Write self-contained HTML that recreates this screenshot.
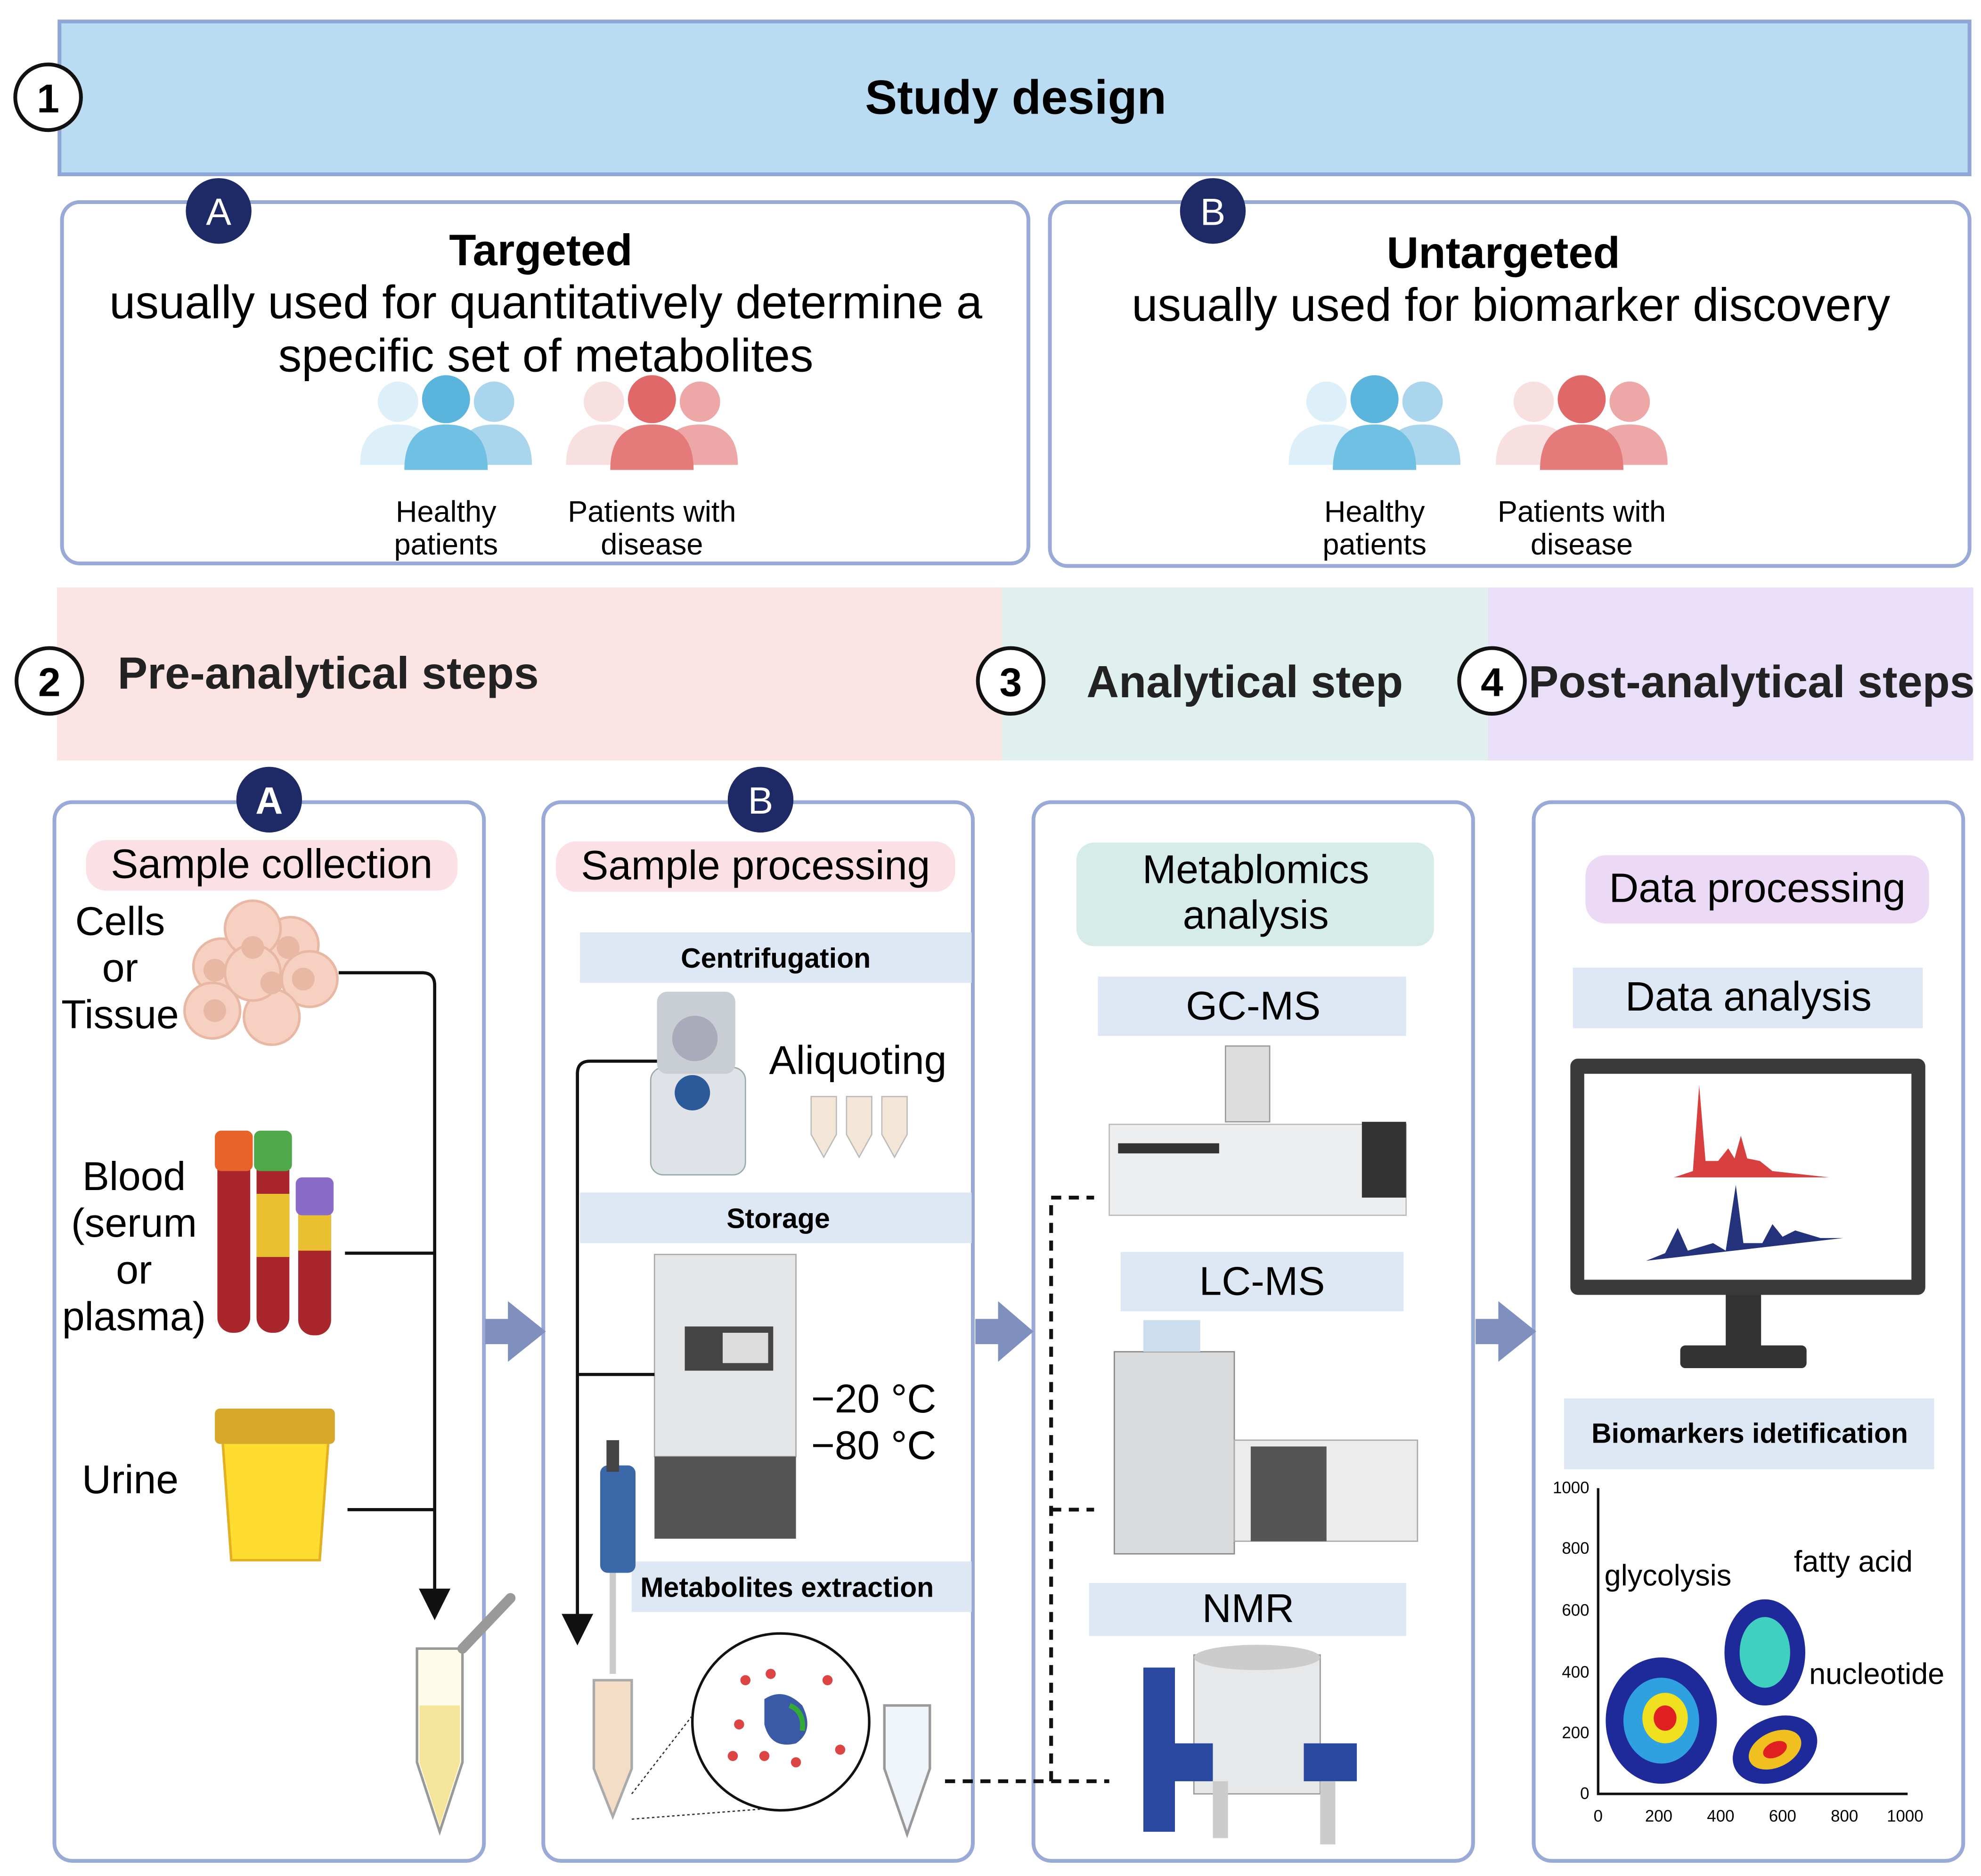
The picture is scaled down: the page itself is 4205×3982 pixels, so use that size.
<!DOCTYPE html>
<html><head><meta charset="utf-8"><style>
html,body{margin:0;padding:0;background:#fff}
svg{display:block}
text{font-family:"Liberation Sans",sans-serif}
</style></head><body>
<svg width="4205" height="3982" viewBox="0 0 1568 1485" xmlns="http://www.w3.org/2000/svg">
<defs>
<g id="people">
 <circle cx="-38" cy="-22" r="16" fill="#ddeff8"/><path d="M-68 28 q0-32 30-32 q30 0 30 32z" fill="#ddeff8"/>
 <circle cx="38" cy="-22" r="16" fill="#a9d6ec"/><path d="M8 28 q0-32 30-32 q30 0 30 32z" fill="#a9d6ec"/>
 <circle cx="0" cy="-24" r="19" fill="#5ab4dc"/><path d="M-33 32 q0-36 33-36 q33 0 33 36z" fill="#6fc0e2"/>
</g>
<g id="peopleR">
 <circle cx="-38" cy="-22" r="16" fill="#f8e0e0"/><path d="M-68 28 q0-32 30-32 q30 0 30 32z" fill="#f8e0e0"/>
 <circle cx="38" cy="-22" r="16" fill="#eda7a7"/><path d="M8 28 q0-32 30-32 q30 0 30 32z" fill="#eda7a7"/>
 <circle cx="0" cy="-24" r="19" fill="#e06868"/><path d="M-33 32 q0-36 33-36 q33 0 33 36z" fill="#e47a7a"/>
</g>
<marker id="ah" markerWidth="10" markerHeight="10" refX="5" refY="5" orient="auto"><path d="M0 0 L10 5 L0 10z" fill="#111"/></marker>
</defs>

<rect x="47" y="17" width="1512" height="121" fill="#b9dcf2" stroke="#8fa6d6" stroke-width="3"/>
<circle cx="38" cy="77" r="26" fill="#fff" stroke="#111" stroke-width="3"/>
<text x="38" y="89" font-size="32" font-weight="bold" text-anchor="middle">1</text>
<text x="804" y="90" font-size="38" font-weight="bold" text-anchor="middle">Study design</text>

<rect x="49" y="160" width="765" height="286" rx="14" fill="#fff" stroke="#9aaad6" stroke-width="3"/>
<circle cx="173" cy="167" r="26" fill="#1e2a66"/>
<text x="173" y="178" font-size="30" fill="#fff" text-anchor="middle">A</text>
<text x="428" y="210" font-size="35" font-weight="bold" text-anchor="middle">Targeted</text>
<text x="432" y="252" font-size="37" text-anchor="middle">usually used for quantitatively determine a</text>
<text x="432" y="294" font-size="37" text-anchor="middle">specific set of metabolites</text>
<use href="#people" x="353" y="340"/><use href="#peopleR" x="516" y="340"/>
<g font-size="23.5" text-anchor="middle"><text x="353" y="413">Healthy</text><text x="353" y="439">patients</text>
<text x="516" y="413">Patients with</text><text x="516" y="439">disease</text></g>

<rect x="831" y="160" width="728" height="288" rx="14" fill="#fff" stroke="#9aaad6" stroke-width="3"/>
<circle cx="960" cy="167" r="26" fill="#1e2a66"/>
<text x="960" y="178" font-size="30" fill="#fff" text-anchor="middle">B</text>
<text x="1190" y="212" font-size="35" font-weight="bold" text-anchor="middle">Untargeted</text>
<text x="1196" y="254" font-size="37" text-anchor="middle">usually used for biomarker discovery</text>
<use href="#people" x="1088" y="340"/><use href="#peopleR" x="1252" y="340"/>
<g font-size="23.5" text-anchor="middle"><text x="1088" y="413">Healthy</text><text x="1088" y="439">patients</text>
<text x="1252" y="413">Patients with</text><text x="1252" y="439">disease</text></g>

<rect x="45" y="465" width="748" height="137" fill="#fce4e4"/>
<rect x="793" y="465" width="385" height="137" fill="#e0f0ee"/>
<rect x="1178" y="465" width="384" height="137" fill="#eadff8"/>
<g stroke="#111" stroke-width="3" fill="#fff"><circle cx="39" cy="539" r="26"/><circle cx="800" cy="539" r="26"/><circle cx="1181" cy="539" r="26"/></g>
<g font-size="32" font-weight="bold" text-anchor="middle"><text x="39" y="551">2</text><text x="800" y="551">3</text><text x="1181" y="551">4</text></g>
<g font-size="35.5" font-weight="bold" fill="#222"><text x="93" y="545">Pre-analytical steps</text><text x="860" y="552">Analytical step</text><text x="1210" y="552">Post-analytical steps</text></g>

<g fill="#fff" stroke="#9aaad6" stroke-width="3">
<rect x="43" y="635" width="340" height="838" rx="14"/><rect x="430" y="635" width="340" height="838" rx="14"/>
<rect x="818" y="635" width="348" height="838" rx="14"/><rect x="1214" y="635" width="340" height="838" rx="14"/></g>
<g fill="#7f90bf"><path d="M384 1044h18v-14l30 24-30 24v-14h-18z"/><path d="M772 1044h18v-14l28 24-28 24v-14h-18z"/><path d="M1168 1044h18v-14l30 24-30 24v-14h-18z"/></g>

<!-- panel 1 -->
<circle cx="213" cy="633" r="26" fill="#1e2a66"/><text x="213" y="644" font-size="30" fill="#fff" text-anchor="middle" font-weight="bold">A</text>
<rect x="68" y="665" width="294" height="40" rx="16" fill="#fbe0e6"/>
<text x="215" y="695" font-size="32.5" text-anchor="middle">Sample collection</text>
<g font-size="32" text-anchor="middle"><text x="95" y="740">Cells</text><text x="95" y="777">or</text><text x="95" y="814">Tissue</text>
<text x="106" y="942">Blood</text><text x="106" y="979">(serum</text><text x="106" y="1016">or</text><text x="106" y="1053">plasma)</text>
<text x="103" y="1182">Urine</text></g>
<g fill="#f6d0c0" stroke="#e8b8a4" stroke-width="2">
<circle cx="175" cy="765" r="22"/><circle cx="230" cy="748" r="22"/><circle cx="200" cy="735" r="22"/><circle cx="245" cy="775" r="22"/><circle cx="168" cy="800" r="22"/><circle cx="215" cy="805" r="22"/><circle cx="200" cy="770" r="22"/></g>
<g fill="#e8b8a4"><circle cx="200" cy="750" r="9"/><circle cx="228" cy="750" r="9"/><circle cx="170" cy="768" r="9"/><circle cx="215" cy="778" r="9"/><circle cx="170" cy="800" r="9"/><circle cx="240" cy="775" r="9"/></g>
<rect x="172" y="905" width="26" height="150" rx="12" fill="#a8262c"/><rect x="170" y="895" width="30" height="32" rx="5" fill="#e8622a"/>
<rect x="203" y="910" width="26" height="145" rx="12" fill="#a8262c"/><rect x="203" y="945" width="26" height="50" fill="#e8c030"/><rect x="201" y="895" width="30" height="32" rx="5" fill="#4fa84a"/>
<rect x="236" y="945" width="26" height="112" rx="12" fill="#a8262c"/><rect x="236" y="960" width="26" height="30" fill="#e8c030"/><rect x="234" y="932" width="30" height="30" rx="5" fill="#8a6cc8"/>
<path d="M175 1125h86l-8 110h-70z" fill="#ffdc30" stroke="#e2b020" stroke-width="2"/>
<rect x="170" y="1115" width="95" height="28" rx="4" fill="#d8a82a"/>
<g fill="none" stroke="#111" stroke-width="2.5">
<path d="M268 770h66q10 0 10 10v490" marker-end="url(#ah)"/><path d="M273 992h71"/><path d="M275 1195h69"/></g>
<path d="M330 1305h36v90l-18 55l-18-55z" fill="#fffbe8" stroke="#999" stroke-width="2"/>
<path d="M332 1350h32v45l-16 50l-16-50z" fill="#f4e59a"/>
<path d="M366 1305 l38-40" stroke="#999" stroke-width="8" stroke-linecap="round"/>

<!-- panel 2 -->
<circle cx="602" cy="633" r="26" fill="#1e2a66"/><text x="602" y="644" font-size="30" fill="#fff" text-anchor="middle">B</text>
<rect x="440" y="666" width="316" height="40" rx="16" fill="#fbe0e6"/>
<text x="598" y="696" font-size="32.5" text-anchor="middle">Sample processing</text>
<rect x="459" y="738" width="310" height="40" fill="#dde8f4"/><text x="614" y="766" font-size="22" font-weight="bold" text-anchor="middle">Centrifugation</text>
<rect x="515" y="845" width="75" height="85" rx="10" fill="#dfe2e6" stroke="#9aa" /><rect x="520" y="785" width="62" height="65" rx="8" fill="#c9ced4"/><circle cx="550" cy="822" r="18" fill="#aab"/><circle cx="548" cy="865" r="14" fill="#2a5a9a"/>
<text x="679" y="850" font-size="32" text-anchor="middle">Aliquoting</text>
<g fill="#f3e6d6" stroke="#bbb"><path d="M642 868h20v30l-10 18l-10-18z"/><path d="M670 868h20v30l-10 18l-10-18z"/><path d="M698 868h20v30l-10 18l-10-18z"/></g>
<rect x="459" y="944" width="310" height="40" fill="#dde8f4"/><text x="616" y="972" font-size="22" font-weight="bold" text-anchor="middle">Storage</text>
<rect x="518" y="993" width="112" height="160" fill="#e4e6e8" stroke="#aaa"/><rect x="518" y="1153" width="112" height="65" fill="#555"/><rect x="542" y="1050" width="70" height="35" fill="#444"/><rect x="572" y="1055" width="36" height="24" fill="#ddd"/>
<text x="642" y="1118" font-size="32">−20 °C</text><text x="642" y="1155" font-size="32">−80 °C</text>
<rect x="500" y="1236" width="269" height="40" fill="#dde8f4"/><text x="623" y="1264" font-size="22" font-weight="bold" text-anchor="middle">Metabolites extraction</text>
<rect x="475" y="1160" width="28" height="85" rx="6" fill="#3a68a8"/><rect x="480" y="1140" width="10" height="25" fill="#444"/><path d="M485 1245v80" stroke="#ccc" stroke-width="5"/>
<path d="M470 1330h30v70l-15 38l-15-38z" fill="#f4ddc6" stroke="#aaa" stroke-width="2"/>
<circle cx="618" cy="1363" r="70" fill="#fff" stroke="#111" stroke-width="2"/>
<g fill="#d44"><circle cx="590" cy="1330" r="4"/><circle cx="610" cy="1325" r="4"/><circle cx="655" cy="1330" r="4"/><circle cx="585" cy="1365" r="4"/><circle cx="665" cy="1385" r="4"/><circle cx="605" cy="1390" r="4"/><circle cx="630" cy="1395" r="4"/><circle cx="580" cy="1390" r="4"/></g>
<path d="M605 1345 q15-10 30 5 q10 20-5 30 q-20 5-25-15z" fill="#3a5aa8"/><path d="M625 1350 q12 5 10 20" stroke="#3a3" stroke-width="4" fill="none"/>
<path d="M500 1440l103-8M500 1420l48-62" stroke="#333" stroke-dasharray="2 2" fill="none"/>
<path d="M700 1350h36v50l-18 52l-18-52z" fill="#eef4fa" stroke="#999" stroke-width="2"/>
<g fill="none" stroke="#111" stroke-width="2.5"><path d="M520 840h-53q-10 0-10 10v440" marker-end="url(#ah)"/><path d="M457 1088h61"/></g>
<g fill="none" stroke="#111" stroke-width="3" stroke-dasharray="8 6"><path d="M748 1410h130"/><path d="M832 1410V948h34"/><path d="M832 1195h34"/></g>

<!-- panel 3 -->
<rect x="852" y="667" width="283" height="82" rx="14" fill="#d5ece8"/>
<text x="994" y="699" font-size="32" text-anchor="middle">Metablomics</text><text x="994" y="735" font-size="32" text-anchor="middle">analysis</text>
<rect x="869" y="773" width="244" height="47" fill="#dde8f4"/><text x="992" y="807" font-size="32" text-anchor="middle">GC-MS</text>
<rect x="878" y="890" width="235" height="72" fill="#eceeef" stroke="#bbb"/><rect x="970" y="828" width="35" height="60" fill="#ddd" stroke="#999"/><rect x="1078" y="888" width="35" height="60" fill="#333"/><rect x="885" y="905" width="80" height="8" fill="#333"/>
<rect x="887" y="991" width="224" height="47" fill="#dde8f4"/><text x="999" y="1025" font-size="32" text-anchor="middle">LC-MS</text>
<rect x="882" y="1070" width="95" height="160" fill="#d8dadc" stroke="#888"/><rect x="905" y="1045" width="45" height="25" fill="#cde"/>
<rect x="977" y="1140" width="145" height="80" fill="#ececec" stroke="#aaa"/><rect x="990" y="1145" width="60" height="75" fill="#555"/>
<rect x="862" y="1253" width="251" height="42" fill="#dde8f4"/><text x="988" y="1284" font-size="32" text-anchor="middle">NMR</text>
<path d="M945 1310h100v110h-100z" fill="#e6e8ea" stroke="#999"/><ellipse cx="995" cy="1312" rx="50" ry="10" fill="#ccc"/>
<rect x="905" y="1320" width="25" height="130" fill="#2a48a0"/><rect x="920" y="1380" width="40" height="30" fill="#2a48a0"/><rect x="1032" y="1380" width="42" height="30" fill="#2a48a0"/>
<rect x="960" y="1410" width="12" height="45" fill="#ccc"/><rect x="1045" y="1410" width="12" height="50" fill="#ccc"/>

<!-- panel 4 -->
<rect x="1255" y="677" width="272" height="54" rx="16" fill="#ecd9f6"/><text x="1391" y="714" font-size="32.5" text-anchor="middle">Data processing</text>
<rect x="1245" y="766" width="277" height="48" fill="#dde8f4"/><text x="1384" y="800" font-size="32.5" text-anchor="middle">Data analysis</text>
<rect x="1243" y="838" width="281" height="187" rx="6" fill="#3a3a3a"/><rect x="1254" y="850" width="259" height="163" fill="#fff"/>
<rect x="1366" y="1025" width="28" height="42" fill="#333"/><rect x="1330" y="1065" width="100" height="18" rx="4" fill="#333"/>
<path d="M1325 932 l15 -5 l5-68 l5 60 l10 0 l8-10 l5 8 l5-18 l5 18 l10 2 l10 8 l45 5z" fill="#d84040"/>
<path d="M1303 998 l15-6 l10-20 l8 18 l20-6 l10 6 l8-52 l6 46 l15 0 l8-15 l8 10 l10-5 l20 6 l18 0z" fill="#23327a"/>
<rect x="1238" y="1107" width="293" height="56" fill="#dde8f4"/><text x="1385" y="1142" font-size="22" font-weight="bold" text-anchor="middle">Biomarkers idetification</text>
<path d="M1265 1178v242h245" fill="none" stroke="#111" stroke-width="2"/>
<g font-size="13" text-anchor="end"><text x="1258" y="1182">1000</text><text x="1258" y="1230">800</text><text x="1258" y="1279">600</text><text x="1258" y="1328">400</text><text x="1258" y="1376">200</text><text x="1258" y="1424">0</text></g>
<g font-size="13" text-anchor="middle"><text x="1265" y="1442">0</text><text x="1313" y="1442">200</text><text x="1362" y="1442">400</text><text x="1411" y="1442">600</text><text x="1460" y="1442">800</text><text x="1508" y="1442">1000</text></g>
<ellipse cx="1315" cy="1362" rx="44" ry="50" fill="#1e2a9a"/><ellipse cx="1315" cy="1362" rx="30" ry="34" fill="#2fa0e0"/><ellipse cx="1318" cy="1360" rx="18" ry="20" fill="#f0e020"/><ellipse cx="1318" cy="1360" rx="9" ry="10" fill="#e02020"/>
<ellipse cx="1397" cy="1308" rx="32" ry="42" fill="#1e2a9a"/><ellipse cx="1397" cy="1308" rx="20" ry="28" fill="#40d0c0"/>
<ellipse cx="1405" cy="1385" rx="35" ry="25" fill="#1e2a9a" transform="rotate(-25 1405 1385)"/><ellipse cx="1405" cy="1385" rx="22" ry="14" fill="#f0c020" transform="rotate(-25 1405 1385)"/><ellipse cx="1405" cy="1385" rx="10" ry="6" fill="#e02020" transform="rotate(-25 1405 1385)"/>
<g font-size="23.5"><text x="1270" y="1255">glycolysis</text><text x="1420" y="1244">fatty acid</text><text x="1432" y="1333">nucleotide</text></g>
</svg>
</body></html>
